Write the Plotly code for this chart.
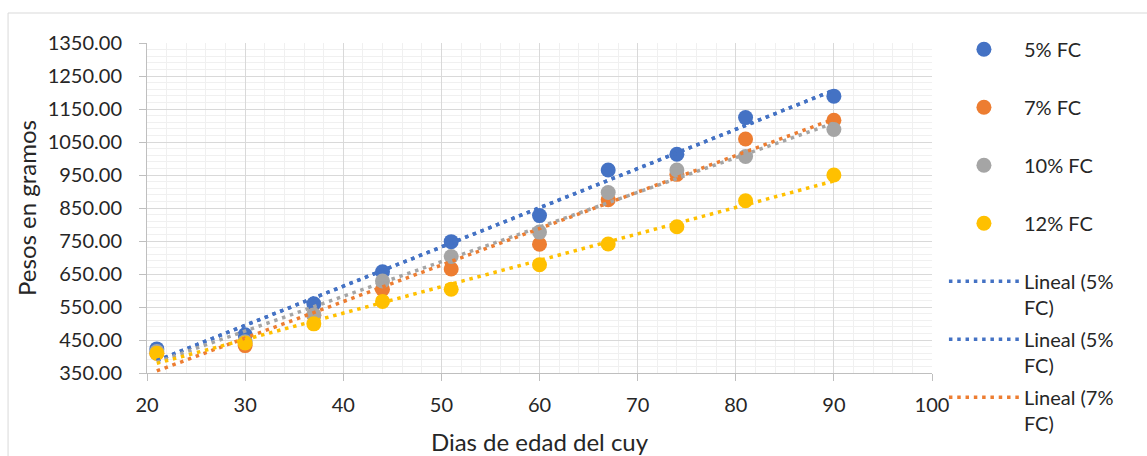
import numpy as np
import plotly.graph_objects as go

# Días de edad y pesos (g) por nivel de fibra cruda
dias = [21, 30, 37, 44, 51, 60, 67, 74, 81, 90]
peso_5 = [423, 466, 560, 657, 748, 827, 965, 1013, 1124, 1189]
peso_7 = [410, 433, 525, 604, 665, 740, 875, 952, 1059, 1116]
peso_10 = [415, 445, 526, 629, 703, 777, 897, 965, 1006, 1088]
peso_12 = [410, 441, 499, 567, 604, 678, 741, 793, 872, 950]

series = [
    ("5% FC", peso_5, "#4472C4"),
    ("7% FC", peso_7, "#ED7D31"),
    ("10% FC", peso_10, "#A5A5A5"),
    ("12% FC", peso_12, "#FFC000"),
]

y_ticks = list(range(350, 1351, 100))
x_ticks = list(range(20, 101, 10))

FONT = "Lato"
TXT = "#262626"

fig = go.Figure()

# puntos observados
for i, (name, vals, color) in enumerate(series):
    fig.add_trace(go.Scatter(
        x=dias, y=vals, mode="markers", name=name + "<br> ",
        legendgroup=f"g{i}",
        marker=dict(color=color, size=15, line=dict(width=0)),
    ))

# líneas de tendencia lineal (mínimos cuadrados)
def tendencia(vals):
    m, b = np.polyfit(dias, vals, 1)
    xs = [dias[0], dias[-1]]
    return xs, [m * x + b for x in xs]

trend_specs = [
    (peso_5, "Lineal (5%<br>FC)", "#4472C4", True),
    (peso_5, "Lineal (5%<br>FC)", "#4472C4", True),
    (peso_7, "Lineal (7%<br>FC)", "#ED7D31", True),
    (peso_10, "Lineal (10%<br>FC)", "#A5A5A5", False),
    (peso_12, "Lineal (12%<br>FC)", "#FFC000", False),
]
for j, (vals, name, color, show) in enumerate(trend_specs):
    xs, ys = tendencia(vals)
    fig.add_trace(go.Scatter(
        x=xs, y=ys, mode="lines", name=name, showlegend=show,
        legendgroup=f"t{j}",
        line=dict(color=color, width=3.5, dash="3.5px,4.8px"),
    ))

fig.update_layout(
    width=1147, height=456,
    margin=dict(l=147, r=215, t=43, b=83),
    paper_bgcolor="white", plot_bgcolor="white",
    font=dict(family=FONT, size=20, color=TXT),
    showlegend=True,
    legend=dict(
        x=1.0152, xanchor="left", y=1.04, yanchor="top",
        itemwidth=70, valign="top", tracegroupgap=3,
        traceorder="grouped", bgcolor="rgba(0,0,0,0)",
        maxheight=600,
        font=dict(family=FONT, size=20, color=TXT),
    ),
    xaxis=dict(
        range=[20, 100], tickvals=x_ticks,
        showgrid=True, gridcolor="#d9d9d9", gridwidth=1,
        minor=dict(dtick=2, tick0=20, showgrid=True, gridcolor="#f0f0f0", gridwidth=1),
        ticks="outside", ticklen=7, tickcolor="#bfbfbf", tickwidth=1,
        showline=True, linecolor="#bfbfbf", linewidth=1, zeroline=False,
        ticklabelstandoff=7, automargin=False,
        title=dict(text="Dias de edad del cuy", standoff=20, font=dict(size=24)),
    ),
    yaxis=dict(
        range=[350, 1350], tickvals=y_ticks, tickformat=".2f",
        showgrid=True, gridcolor="#d9d9d9", gridwidth=1,
        minor=dict(dtick=20, tick0=350, showgrid=True, gridcolor="#f0f0f0", gridwidth=1),
        ticks="outside", ticklen=7, tickcolor="#bfbfbf", tickwidth=1,
        showline=True, linecolor="#bfbfbf", linewidth=1, zeroline=False,
        ticklabelstandoff=13, automargin=False,
        title=dict(text="Pesos en gramos", standoff=4, font=dict(size=24)),
    ),
    shapes=[dict(
        type="rect", xref="paper", yref="paper",
        x0=-0.177, x1=1.3, y0=-0.3, y1=1.0909,
        line=dict(color="#d9d9d9", width=1), fillcolor="rgba(0,0,0,0)",
        layer="below",
    )],
)

fig.write_html("out.html")
